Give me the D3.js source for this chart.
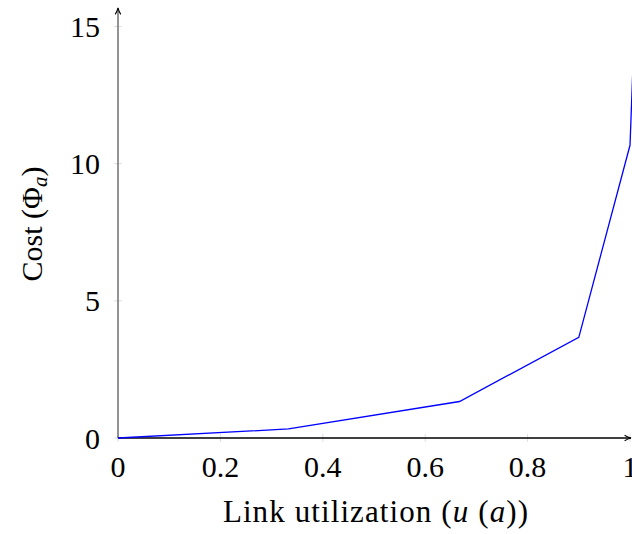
<!DOCTYPE html>
<html>
<head>
<meta charset="utf-8">
<script src="https://cdn.jsdelivr.net/npm/d3@7"></script>
<style>
  html, body { margin: 0; padding: 0; background: #fff; overflow: hidden; }
  text { font-family: "Liberation Serif", "DejaVu Serif", serif; fill: #000; }
</style>
</head>
<body>
<div id="chart"></div>
<script>
// piecewise linear link cost
const utilization = [0, 0.333, 0.667, 0.9, 1.0, 1.1];
const cost = [0, 0.33, 1.33, 3.67, 10.67, 60.67];
const xTicks = [0, 0.2, 0.4, 0.6, 0.8, 1];
const yTicks = [0, 5, 10, 15];

const width = 632;
const height = 534;

const x = d3.scaleLinear().domain([0, 1]).range([118, 630]);
const y = d3.scaleLinear().domain([0, 15]).range([438, 26.5]);

const svg = d3.select('#chart')
    .append('svg')
    .attr('width', width)
    .attr('height', height);

svg.append('defs').append('marker')
    .attr('id', 'arrow')
    .attr('viewBox', '0 0 10 10')
    .attr('refX', 9)
    .attr('refY', 5)
    .attr('markerWidth', 8)
    .attr('markerHeight', 8)
    .attr('markerUnits', 'userSpaceOnUse')
    .attr('orient', 'auto')
    .append('path')
    .attr('d', 'M1,1.5 Q5,4 9,5 Q5,6 1,8.5')
    .attr('fill', 'none')
    .attr('stroke', '#000')
    .attr('stroke-width', 1.3);

svg.append('clipPath').attr('id', 'plot')
    .append('rect')
    .attr('x', x(0))
    .attr('y', y(15))
    .attr('width', 200 + x(1) - x(0))
    .attr('height', y(0) - y(15) + 2);

// tick marks (light gray, both sides of axis)
svg.append('g')
    .selectAll('line')
    .data(xTicks)
    .join('line')
    .attr('x1', d => x(d)).attr('x2', d => x(d))
    .attr('y1', y(0) - 4).attr('y2', y(0) + 4)
    .attr('stroke', '#d6d6d6')
    .attr('stroke-width', 0.8);

svg.append('g')
    .selectAll('line')
    .data(yTicks)
    .join('line')
    .attr('x1', x(0) - 4).attr('x2', x(0) + 4)
    .attr('y1', d => y(d)).attr('y2', d => y(d))
    .attr('stroke', '#d6d6d6')
    .attr('stroke-width', 0.8);

// tick labels
svg.append('g')
    .selectAll('text')
    .data(xTicks)
    .join('text')
    .attr('x', d => x(d))
    .attr('y', 477)
    .attr('text-anchor', 'middle')
    .attr('font-size', 30)
    .text(d => d3.format('~g')(d));

svg.append('g')
    .selectAll('text')
    .data(yTicks)
    .join('text')
    .attr('x', 100)
    .attr('y', d => y(d) + 10.5)
    .attr('text-anchor', 'end')
    .attr('font-size', 30)
    .text(d => d);

// axes
svg.append('line')
    .attr('x1', x(0)).attr('y1', y(0))
    .attr('x2', x(0)).attr('y2', 8)
    .attr('stroke', '#666')
    .attr('stroke-width', 1.4)
    .attr('marker-end', 'url(#arrow)');

svg.append('line')
    .attr('x1', x(0)).attr('y1', y(0))
    .attr('x2', 631).attr('y2', y(0))
    .attr('stroke', '#000')
    .attr('stroke-width', 1.4)
    .attr('marker-end', 'url(#arrow)');

// cost curve
const line = d3.line()
    .x((d, i) => x(utilization[i]))
    .y(d => y(d));

svg.append('path')
    .datum(cost)
    .attr('clip-path', 'url(#plot)')
    .attr('d', line)
    .attr('fill', 'none')
    .attr('stroke', '#0000ff')
    .attr('stroke-width', 1.3);

// axis labels
const xl = svg.append('text')
    .attr('x', 376)
    .attr('y', 522)
    .attr('text-anchor', 'middle')
    .attr('font-size', 31)
    .attr('letter-spacing', 1.1);
xl.append('tspan').text('Link utilization (');
xl.append('tspan').attr('font-style', 'italic').text('u');
xl.append('tspan').text(' (');
xl.append('tspan').attr('font-style', 'italic').text('a');
xl.append('tspan').text('))');

const yl = svg.append('text')
    .attr('transform', 'translate(42,224) rotate(-90)')
    .attr('text-anchor', 'middle')
    .attr('font-size', 30);
yl.append('tspan').text('Cost (Φ');
yl.append('tspan').attr('font-style', 'italic').attr('font-size', 21).attr('dy', 5).text('a');
yl.append('tspan').attr('dy', -5).text(')');
</script>
</body>
</html>
